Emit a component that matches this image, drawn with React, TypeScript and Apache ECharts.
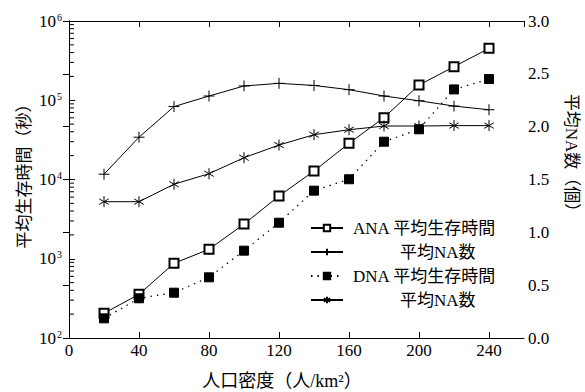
import React, { useEffect, useRef } from "react";
import * as echarts from "echarts";

const xValues = [20, 40, 60, 80, 100, 120, 140, 160, 180, 200, 220, 240];
const anaSurvival = [205, 356, 877, 1315, 2740, 6190, 12800, 28600, 60300, 155600, 265000, 452000];
const anaNA = [1.55, 1.9, 2.19, 2.29, 2.385, 2.41, 2.39, 2.35, 2.29, 2.245, 2.195, 2.16];
const dnaSurvival = [177, 317, 373, 583, 1265, 2850, 7230, 10070, 30000, 43000, 137000, 185000];
const dnaNA = [1.29, 1.29, 1.455, 1.555, 1.706, 1.826, 1.924, 1.971, 2.006, 2.006, 2.01, 2.01];

const seriesNames = ["ANA 平均生存時間", "ANA 平均NA数", "DNA 平均生存時間", "DNA 平均NA数"];
const xName = "人口密度（人/km²）";
const yLeftName = "平均生存時間（秒）";
const yRightName = "平均NA数（個）";

const decades = [100, 1000, 10000, 100000];
const minorMultipliers = [2, 3, 4, 5, 6, 7, 8, 9];

const FONT = "Liberation Serif, Noto Sans CJK JP, serif";
const PLUS = "path://M0,5L10,5M5,0L5,10";
const STAR = "path://M5,0L5,10M0.67,2.5L9.33,7.5M0.67,7.5L9.33,2.5";

const T = (size: number) => ({ fontFamily: FONT, fontSize: size, color: "#000" });

export default function App() {
  const ref = useRef<HTMLDivElement>(null);
  useEffect(() => {
    if (!ref.current) return;
    const chart = echarts.init(ref.current, null, { renderer: "svg" });
    const minorTicks: number[][] = [];
    decades.forEach((d) => minorMultipliers.forEach((m) => minorTicks.push([0, d * m])));
    const pair = (ys: number[]) => xValues.map((x, i) => [x, ys[i]]);
    const lineBase = {
      type: "line" as const,
      xAxisIndex: 0,
      symbolKeepAspect: true,
      itemStyle: { color: "#000", borderColor: "#000", borderWidth: 1 },
    };
    chart.setOption({
      animation: false,
      backgroundColor: "#fff",
      textStyle: { fontFamily: FONT },
      grid: { left: 69, right: 61, top: 21, bottom: 54 },
      legend: {
        orient: "vertical",
        left: 310,
        top: 218,
        padding: 0,
        itemGap: 4,
        itemWidth: 32,
        itemHeight: 8,
        data: seriesNames,
        formatter: (name: string) =>
          name.indexOf("NA数") >= 0 ? `{p|平均NA数}` : `{a|${name}}`,
        textStyle: {
          ...T(17),
          lineHeight: 20,
          rich: {
            a: { ...T(17), padding: [0, 0, 0, 5] },
            p: { ...T(17), padding: [0, 0, 0, 52] },
          },
        },
      } as any,
      xAxis: [
        {
          type: "value",
          min: 0,
          max: 260,
          interval: 40,
          splitLine: { show: false },
          axisLine: { lineStyle: { color: "#000", width: 1 } },
          axisTick: { inside: true, length: 6, lineStyle: { color: "#000" } },
          axisLabel: {
            ...T(17),
            margin: 4,
            showMaxLabel: false,
            formatter: (v: number) => (v > 240 ? "" : String(v)),
          },
        },
        {
          type: "value",
          position: "top",
          min: 0,
          max: 260,
          interval: 40,
          splitLine: { show: false },
          axisLine: { lineStyle: { color: "#000", width: 1 } },
          axisTick: { inside: true, length: 6, lineStyle: { color: "#000" } },
          axisLabel: { show: false },
        },
      ],
      yAxis: [
        {
          type: "log",
          logBase: 10,
          min: 100,
          max: 1000000,
          splitLine: { show: false },
          axisLine: { show: true, lineStyle: { color: "#000", width: 1 } },
          axisTick: { inside: true, length: 6, lineStyle: { color: "#000" } },
          axisLabel: {
            ...T(17),
            margin: 7,
            formatter: (v: number) => `{b|10}{s|${Math.round(Math.log10(v))}}`,
            rich: {
              b: T(17),
              s: { ...T(10), verticalAlign: "top", padding: [0, 0, 8, 1] },
            },
          },
        },
        {
          type: "value",
          position: "right",
          min: 0,
          max: 3,
          interval: 0.5,
          splitLine: { show: false },
          axisLine: { show: true, lineStyle: { color: "#000", width: 1 } },
          axisTick: { inside: true, length: 6, lineStyle: { color: "#000" } },
          axisLabel: {
            ...T(17),
            margin: 4,
            formatter: (v: number) => v.toFixed(1),
          },
        },
      ],
      series: [
        {
          ...lineBase,
          name: seriesNames[0],
          yAxisIndex: 0,
          data: pair(anaSurvival),
          symbol: "emptyRect",
          symbolSize: 9,
          lineStyle: { color: "#000", width: 1, type: "solid" },
        },
        {
          ...lineBase,
          name: seriesNames[1],
          yAxisIndex: 1,
          data: pair(anaNA),
          symbol: PLUS,
          symbolSize: 11,
          lineStyle: { color: "#000", width: 1, type: "solid" },
        },
        {
          ...lineBase,
          name: seriesNames[2],
          yAxisIndex: 0,
          data: pair(dnaSurvival),
          symbol: "rect",
          symbolSize: 9,
          lineStyle: { color: "#000", width: 1.2, type: [1.5, 5] },
        },
        {
          ...lineBase,
          name: seriesNames[3],
          yAxisIndex: 1,
          data: pair(dnaNA),
          symbol: STAR,
          symbolSize: 11,
          lineStyle: { color: "#000", width: 1, type: "solid" },
        },
        {
          type: "custom",
          name: "minorTicks",
          xAxisIndex: 0,
          yAxisIndex: 0,
          silent: true,
          data: minorTicks,
          renderItem: (_p: any, api: any) => {
            const pt = api.coord([api.value(0), api.value(1)]);
            return {
              type: "line",
              shape: { x1: pt[0], y1: pt[1], x2: pt[0] + 5, y2: pt[1] },
              style: { stroke: "#000", lineWidth: 1 },
            };
          },
        },
      ],
      graphic: [
        {
          type: "text",
          x: 24,
          y: 172,
          rotation: Math.PI / 2,
          style: { text: yLeftName, fontSize: 17, fontFamily: FONT, fill: "#000", align: "center", verticalAlign: "middle" },
        },
        {
          type: "text",
          x: 571,
          y: 157,
          rotation: -Math.PI / 2,
          style: { text: yRightName, fontSize: 17, fontFamily: FONT, fill: "#000", align: "center", verticalAlign: "middle" },
        },
        {
          type: "text",
          x: 282,
          y: 381,
          style: { text: xName, fontSize: 18, fontFamily: FONT, fill: "#000", align: "center", verticalAlign: "middle" },
        },
      ],
    } as any);
    return () => chart.dispose();
  }, []);
  return <div ref={ref} style={{ position: "absolute", left: 0, top: 0, width: 585, height: 392 }} />;
}
